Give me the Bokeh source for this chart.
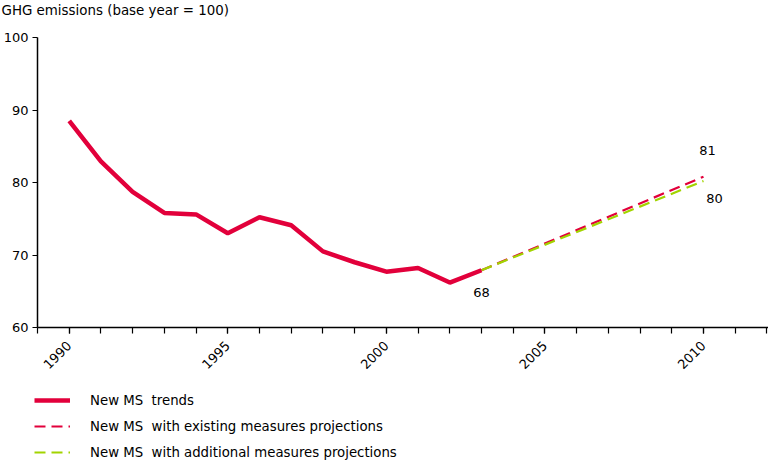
import math
from bokeh.plotting import figure
from bokeh.layouts import column
from bokeh.models import (Range1d, SingleIntervalTicker, FixedTicker, Legend, LegendItem,
                          ColumnDataSource, Label)
from bokeh.core.properties import value
from bokeh.embed import file_html
from bokeh.resources import INLINE

# ---- data ----
trend_years = [1990, 1991, 1992, 1993, 1994, 1995, 1996, 1997, 1998, 1999, 2000, 2001, 2002, 2003]
trend_values = [88.5, 82.9, 78.7, 75.8, 75.6, 73.0, 75.2, 74.1, 70.5, 69.0, 67.7, 68.2, 66.2, 67.9]
proj_years = [2003, 2010]
existing_values = [67.9, 80.8]
additional_values = [67.9, 80.2]
y_ticks = [60, 70, 80, 90, 100]
title_text = "GHG emissions (base year = 100)"
legend_labels = ["New MS  trends",
                 "New MS  with existing measures projections",
                 "New MS  with additional measures projections"]

RED = "#E2003B"
GREEN = "#A2D400"
FONT = "DejaVu Sans"
W = 768

def bare(h):
    f = figure(width=W, height=h, output_backend="svg", toolbar_location=None,
               x_axis_type=None, y_axis_type=None,
               x_range=Range1d(0, 1), y_range=Range1d(0, 1),
               min_border_left=0, min_border_right=0, min_border_top=0, min_border_bottom=0,
               frame_align=False)
    f.outline_line_color = None
    f.xgrid.visible = False
    f.ygrid.visible = False
    return f

# ---- title strip ----
tfig = bare(20)
tfig.add_layout(Label(x=1, y=10, x_units="screen", y_units="screen", text=title_text,
                      text_font=FONT, text_font_size="13.4px", text_color="#000000",
                      text_align="left", text_baseline="middle"))

# ---- main plot ----
p = figure(width=W, height=365, output_backend="svg", toolbar_location=None,
           x_range=Range1d(1989.0, 2012.05), y_range=Range1d(60, 100),
           min_border_left=0, min_border_right=0, min_border_top=17, min_border_bottom=58,
           frame_align=False)
p.outline_line_color = None
p.xgrid.visible = False
p.ygrid.visible = False

xa = p.xaxis[0]
xa.ticker = SingleIntervalTicker(interval=5, num_minor_ticks=5)
xa.major_label_orientation = math.pi / 4
xa.major_tick_in = 0
xa.major_tick_out = 6
xa.minor_tick_in = 0
xa.minor_tick_out = 6
xa.axis_line_width = 1.5
xa.major_tick_line_width = 1.2
xa.minor_tick_line_width = 1.2
xa.major_label_text_font = FONT
xa.major_label_text_font_size = "13px"
xa.major_label_text_color = "#000000"
xa.major_label_standoff = 10

ya = p.yaxis[0]
ya.ticker = FixedTicker(ticks=y_ticks)
ya.major_tick_in = 0
ya.major_tick_out = 5
ya.minor_tick_line_color = None
ya.axis_line_width = 1.5
ya.major_tick_line_width = 1.2
ya.major_label_text_font = FONT
ya.major_label_text_font_size = "13px"
ya.major_label_text_color = "#000000"
ya.major_label_standoff = 4

line_styles = [dict(line_color=RED, line_width=4.5),
               dict(line_color=RED, line_width=2.2, line_dash="11 6"),
               dict(line_color=GREEN, line_width=2.2, line_dash="11 6")]
series = [(trend_years, trend_values), (proj_years, existing_values), (proj_years, additional_values)]

p.line(proj_years, existing_values, **line_styles[1])
p.line(proj_years, additional_values, **line_styles[2])
p.line(trend_years, trend_values, **line_styles[0])

lab_src = ColumnDataSource(dict(
    x=[trend_years[-1], proj_years[-1], proj_years[-1]],
    y=[trend_values[-1], existing_values[-1], additional_values[-1]],
    t=[str(round(trend_values[-1])), str(round(existing_values[-1])), str(round(additional_values[-1]))],
    xo=[0, 4, 11],
    yo=[22, -26, 17],
))
p.text(x="x", y="y", text="t", x_offset="xo", y_offset="yo", source=lab_src,
       text_font=value(FONT), text_font_size="13px", text_color="black",
       text_align="center", text_baseline="middle")

# ---- legend strip (series drawn out of view; only legend glyphs show) ----
lfig = bare(75)
items = []
for lab, st, (xs, ys) in zip(legend_labels, line_styles, series):
    r = lfig.line(x=xs, y=ys, **st)
    items.append(LegendItem(label=lab, renderers=[r]))
legend = Legend(items=items, location=(34, 0), orientation="vertical")
legend.border_line_color = None
legend.background_fill_alpha = 0
legend.padding = 0
legend.margin = 0
legend.glyph_width = 36
legend.glyph_height = 16
legend.label_height = 16
legend.spacing = 10
legend.label_standoff = 20
legend.label_text_font = FONT
legend.label_text_font_size = "13.3px"
legend.label_text_color = "#000000"
legend.label_text_baseline = "middle"
lfig.add_layout(legend, "center")

layout = column(tfig, p, lfig, spacing=0)
open("out.html", "w").write(file_html(layout, INLINE))
